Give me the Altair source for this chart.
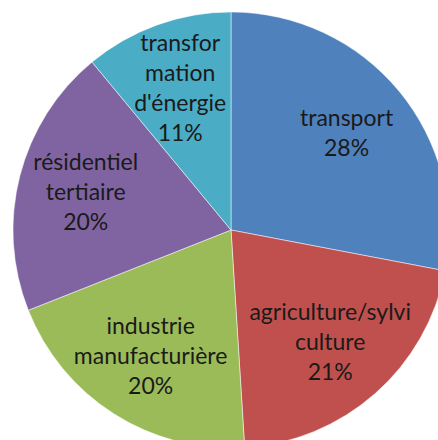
import altair as alt
import pandas as pd
import math

categories = ["transport", "agriculture/sylviculture", "industrie manufacturière",
              "résidentiel tertiaire", "transformation d'énergie"]
label_lines = [["transport"], ["agriculture/sylvi", "culture"], ["industrie", "manufacturière"],
               ["résidentiel", "tertiaire"], ["transfor", "mation", "d'énergie"]]
values = [28, 21, 20, 20, 11]
colors = ["#4F81BD", "#C0504D", "#9BBB59", "#8064A2", "#4BACC6"]

LINE_H = 30
total = sum(values)

df = pd.DataFrame({
    "cat": categories,
    "value": values,
    "idx": list(range(len(categories))),
    "label": ["\n".join(l + [f"{v}%"]) for l, v in zip(label_lines, values)],
    "nlines": [len(l) + 1 for l in label_lines],
})

arcs = alt.Chart(df).mark_arc(radius=218, stroke="#ffffff", strokeWidth=1, strokeOpacity=0.5).encode(
    theta=alt.Theta("value:Q", stack=True),
    order=alt.Order("idx:Q"),
    color=alt.Color("cat:N", scale=alt.Scale(domain=categories, range=colors), legend=None),
)

text_base = alt.Chart(df).transform_window(
    cum="sum(value)", sort=[alt.SortField("idx")],
    frame=[None, 0],
).transform_calculate(mid="datum.cum - datum.value / 2")

layers = [arcs]
for n in sorted(set(df["nlines"])):
    layers.append(
        text_base.transform_filter(alt.datum.nlines == n).mark_text(
            radius=150, font="Lato", fontSize=23, lineHeight=LINE_H,
            lineBreak="\n", color="#1a1a1a", align="center", baseline="middle",
            dy=-(n - 1) * LINE_H / 2,
        ).encode(
            theta=alt.Theta("mid:Q", stack=None,
                            scale=alt.Scale(domain=[0, total], range=[0, 2 * math.pi])),
            text="label:N",
        )
    )

chart = alt.layer(*layers).properties(
    width=414, height=420,
    autosize=alt.AutoSizeParams(type="none"),
    padding={"left": 24, "top": 20, "right": 0, "bottom": 0},
).configure_view(stroke=None).configure(background="#ffffff")

chart.save("out.html", embed_options={"renderer": "svg", "actions": False})
